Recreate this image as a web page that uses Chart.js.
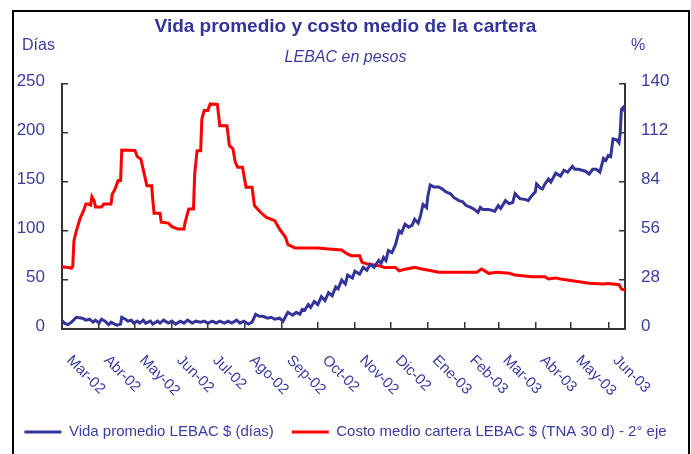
<!DOCTYPE html>
<html>
<head>
<meta charset="utf-8">
<script src="https://cdn.jsdelivr.net/npm/chart.js@4/dist/chart.umd.min.js"></script>
<style>
  body { margin: 0; background: #fff; }
  canvas { display: block; }
</style>
</head>
<body>
<canvas id="vidaChart" width="691" height="454"></canvas>
<script>
// month labels and their day offset from 1-Mar-2002
const meses = ['Mar-02', 'Abr-02', 'May-02', 'Jun-02', 'Jul-02', 'Ago-02', 'Sep-02', 'Oct-02',
               'Nov-02', 'Dic-02', 'Ene-03', 'Feb-03', 'Mar-03', 'Abr-03', 'May-03', 'Jun-03'];
const inicioMes = [0, 31, 61, 92, 122, 153, 184, 214, 245, 275, 306, 337, 365, 396, 426, 457];
const ultimoDia = 471;

// Vida promedio LEBAC $ (días) - left axis
const vidaDias = [0,2,5,8,12,17,20,23,26,28,31,33,36,39,41,44,46,49,50,53,55,58,60,63,65,68,70,74,76,80,
  82,85,89,92,95,99,102,105,109,112,116,119,122,126,129,132,136,139,142,146,149,152,156,159,162,165,168,172,175,178,
  182,185,188,189,193,196,199,201,203,206,208,211,214,217,220,223,226,229,231,234,237,239,243,245,249,252,255,258,261,265,
  267,269,271,273,276,279,282,284,287,290,293,295,298,300,302,305,306,308,311,315,318,321,325,328,332,335,338,342,345,348,
  350,352,357,360,362,365,367,371,374,377,379,383,388,390,393,396,397,400,402,404,407,409,413,417,420,423,427,429,432,435,
  438,441,444,447,450,453,455,457,459,461,464,466,467,468,469.5,471];
const vidaValores = [8.5,6,4.5,7,12,11,9,10,7,9,6,10,8,4.5,7,5,4,5,12,10,8,9,6,8,6,9,6,8,5,8,
  6,9,6,8,5,8,6,9,6,8,7,8,6,8,6,8,6,8,6,9,6,8,5,7,15,13,13,11,12,10,
  11,8,15,17,14,17,15,20,19,25,22,28,25,33,29,37,34,43,41,50,46,55,52,59,56,63,60,66,63,70,
  67,73,70,80,78,86,100,98,107,104,106,112,108,116,127,124,135,147,145,145,143,140,138,134,131,130,126,124,122,119,
  124,122,122,121,120,126,123,131,128,129,138,133,132,131,136,140,148,144,143,148,153,150,159,156,162,160,166,163,163,162,
  161,158,163,163,160,174,172,177,176,194,193,190,200,224,226,222];

// Costo medio cartera LEBAC $ (TNA 30 d) - right axis
const costoDias = [0,8,9,10,12,15,18,20,22,24,25,27,28,33,35,41,42,44,47,49,
  50,61,63,66,68,71,75,76,77,82,83,89,92,97,102,103,106,110,111,113,
  116,117,119,122,124,130,132,138,140,143,145,147,151,154,159,161,166,171,178,182,
  187,189,195,214,223,234,238,242,249,251,256,265,270,279,282,287,295,301,309,315,
  347,351,357,364,374,379,393,404,407,413,417,427,441,453,457,466,468,471];
const costoValores = [35.6,34.8,36,50.5,56,63,67.6,71.4,71.4,70.8,75.6,73,69.7,69.7,71.4,71.4,77,79.4,84.8,84.8,
  102.3,102,98.5,97,90.9,81.9,81.9,73.3,66.1,66.1,61,60.5,58.5,57.1,57.1,61,68.6,68.6,88.6,101.9,
  101.9,120,124.8,124.8,128.6,128.3,116.2,116.2,104.8,103,95.2,92.4,92.4,81,81,70.5,66.7,63.8,61.9,57.1,
  52.4,48.2,46.3,46.3,45.7,45.1,43.2,41.9,41.9,38.1,37.1,36.2,35.2,35.2,33.3,34.2,35.2,34.3,33.3,32.4,
  32.4,34.3,31.8,32.4,31.8,30.9,29.9,29.9,28.6,29.2,28.6,27.6,26.1,25.7,26,25.3,22.9,22.3];

const azul = '#333399';
const rojo = '#ff0000';
const textoColor = '#3c3ca0';

Chart.defaults.font.family = "'Liberation Sans', Arial, sans-serif";

// month labels rotated downwards, frame and axis captions
const extrasPlugin = {
    id: 'extras',
    afterDraw(chart) {
        const ctx = chart.ctx;
        const x = chart.scales.x;
        const area = chart.chartArea;
        ctx.save();
        ctx.fillStyle = textoColor;
        ctx.font = "15px 'Liberation Sans', Arial, sans-serif";
        ctx.textAlign = 'left';
        ctx.textBaseline = 'middle';
        for (let i = 0; i < meses.length; i++) {
            const px = x.getPixelForValue(inicioMes[i]);
            ctx.save();
            ctx.translate(px + 7, area.bottom + 29);
            ctx.rotate(Math.PI / 4);
            ctx.fillText(meses[i], 0, 0);
            ctx.restore();
        }
        ctx.font = "16px 'Liberation Sans', Arial, sans-serif";
        ctx.fillText('Días', 22, 46);
        ctx.fillText('%', 631, 46);
        ctx.strokeStyle = '#000';
        ctx.lineWidth = 2;
        ctx.strokeRect(13, 11, 676, 500);
        ctx.restore();
    }
};

const ctx = document.getElementById('vidaChart').getContext('2d');
new Chart(ctx, {
    type: 'line',
    data: {
        datasets: [{
            label: 'Vida promedio LEBAC $ (días)',
            data: vidaDias.map((d, i) => ({ x: d, y: vidaValores[i] })),
            borderColor: azul,
            backgroundColor: azul,
            borderWidth: 3,
            pointRadius: 0,
            tension: 0,
            yAxisID: 'y'
        }, {
            label: 'Costo medio cartera LEBAC $ (TNA 30 d) - 2° eje',
            data: costoDias.map((d, i) => ({ x: d, y: costoValores[i] })),
            borderColor: rojo,
            backgroundColor: rojo,
            borderWidth: 3,
            pointRadius: 0,
            tension: 0,
            yAxisID: 'y2'
        }]
    },
    options: {
        responsive: false,
        animation: false,
        layout: { padding: { top: 0, left: 0, right: 0, bottom: 4.5 } },
        plugins: {
            title: {
                display: true,
                text: 'Vida promedio y costo medio de la cartera',
                color: azul,
                font: { size: 19, weight: 'bold' },
                padding: { top: 15.5, bottom: 0 }
            },
            subtitle: {
                display: true,
                text: 'LEBAC en pesos',
                color: textoColor,
                font: { size: 16, style: 'italic' },
                padding: { top: 10, bottom: 16.5 }
            },
            legend: {
                position: 'bottom',
                labels: {
                    color: textoColor,
                    font: { size: 15 },
                    boxWidth: 37,
                    boxHeight: 3,
                    padding: 18,
                    generateLabels: (chart) => Chart.defaults.plugins.legend.labels.generateLabels(chart)
                        .map(l => ({ ...l, lineWidth: 0 }))
                }
            },
            tooltip: { enabled: false }
        },
        scales: {
            x: {
                type: 'linear',
                min: 0,
                max: ultimoDia,
                afterBuildTicks: (axis) => { axis.ticks = inicioMes.map(v => ({ value: v })); },
                afterFit: (axis) => { axis.height = 77.5; },
                ticks: { display: false },
                grid: { drawOnChartArea: false, tickLength: -7, color: '#333', lineWidth: 1.5 },
                border: { color: '#333', width: 2 }
            },
            y: {
                position: 'left',
                min: 0,
                max: 250,
                afterFit: (axis) => { axis.width = 62; },
                ticks: { stepSize: 50, color: textoColor, font: { size: 17 }, padding: 23, labelOffset: -3 },
                grid: { drawOnChartArea: false, tickLength: -6, color: '#333', lineWidth: 1.5 },
                border: { color: '#333', width: 2 }
            },
            y2: {
                position: 'right',
                min: 0,
                max: 140,
                afterFit: (axis) => { axis.width = 66; },
                ticks: { stepSize: 28, color: textoColor, font: { size: 17 }, padding: 22, labelOffset: -3 },
                grid: { drawOnChartArea: false, tickLength: -6, color: '#333', lineWidth: 1.5 },
                border: { color: '#333', width: 2 }
            }
        }
    },
    plugins: [extrasPlugin]
});
</script>
</body>
</html>
